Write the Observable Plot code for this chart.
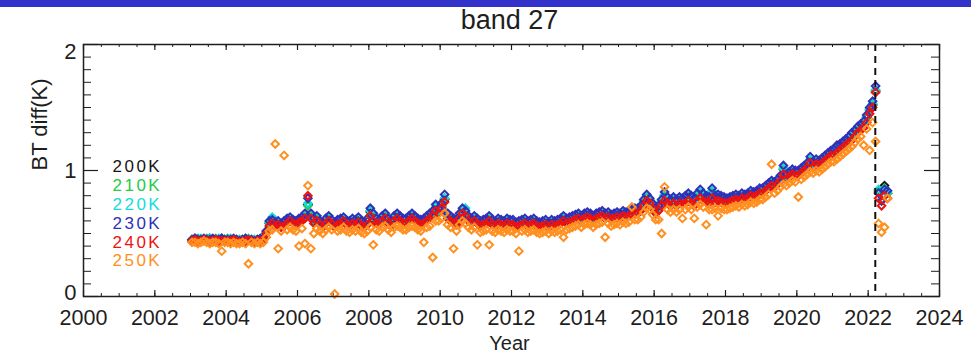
<!DOCTYPE html>
<html><head><meta charset="utf-8">
<script src="https://cdn.jsdelivr.net/npm/d3@7"></script>
<script src="https://cdn.jsdelivr.net/npm/@observablehq/plot@0.6"></script>
<style>
body{margin:0;background:#fff;}
#bar{height:7px;background:#3333cc;}
</style></head><body><div id="bar"></div><div id="chart"></div>
<script>
// ---- data (monthly samples, mid-month, Jan 2003 – Jul 2022) ----
const firstYear = 2003;
const seriesNames = ["200K","210K","220K","230K","240K","250K"];
const seriesColors = ["#151515","#22cc44","#11dddd","#3030b8","#ee1111","#ff9020"];

const v200K = [
0.45,0.46,0.45,0.45,0.45,0.45,0.46,0.45,0.45,0.45,0.46,0.45,
0.45,0.45,0.45,0.45,0.44,0.45,0.45,0.45,0.45,0.44,0.45,0.45,
0.45,0.50,0.58,0.60,0.58,0.59,0.57,0.58,0.60,0.61,0.60,0.59,
0.60,0.61,0.64,0.73,0.64,0.60,0.62,0.59,0.58,0.60,0.62,0.60,
0.58,0.59,0.60,0.61,0.59,0.58,0.60,0.59,0.61,0.59,0.58,0.60,
0.67,0.64,0.60,0.59,0.62,0.64,0.60,0.59,0.62,0.64,0.62,0.60,
0.60,0.62,0.64,0.62,0.60,0.59,0.60,0.62,0.64,0.66,0.70,0.68,
0.71,0.77,0.64,0.62,0.60,0.59,0.64,0.67,0.66,0.62,0.60,0.62,
0.60,0.58,0.59,0.60,0.62,0.59,0.58,0.60,0.59,0.58,0.60,0.59,
0.59,0.57,0.58,0.59,0.60,0.58,0.59,0.60,0.58,0.57,0.58,0.59,
0.57,0.59,0.58,0.59,0.60,0.62,0.60,0.61,0.62,0.63,0.64,0.62,
0.64,0.65,0.64,0.62,0.64,0.65,0.66,0.64,0.65,0.63,0.64,0.65,
0.64,0.66,0.65,0.66,0.67,0.68,0.68,0.70,0.75,0.79,0.76,0.72,
0.68,0.70,0.75,0.80,0.77,0.75,0.77,0.75,0.77,0.76,0.78,0.80,
0.78,0.76,0.80,0.82,0.80,0.78,0.77,0.83,0.78,0.79,0.78,0.77,
0.76,0.77,0.78,0.79,0.78,0.80,0.79,0.80,0.82,0.81,0.82,0.84,
0.84,0.86,0.88,0.90,0.89,0.91,0.94,1.01,0.95,0.97,0.99,0.98,
0.98,1.00,1.02,1.04,1.08,1.05,1.07,1.06,1.08,1.10,1.12,1.14,
1.15,1.17,1.19,1.21,1.23,1.25,1.28,1.30,1.33,1.35,1.37,1.42,
1.48,1.52,1.63,0.83,0.76,0.88,0.82];

const v210K = [
0.45,0.45,0.46,0.45,0.45,0.46,0.45,0.45,0.46,0.45,0.45,0.45,
0.46,0.45,0.45,0.44,0.45,0.45,0.46,0.45,0.44,0.45,0.45,0.45,
0.45,0.51,0.58,0.61,0.59,0.59,0.57,0.59,0.61,0.62,0.60,0.59,
0.61,0.62,0.64,0.72,0.64,0.61,0.62,0.59,0.58,0.61,0.62,0.60,
0.58,0.60,0.61,0.62,0.59,0.59,0.61,0.60,0.62,0.59,0.58,0.61,
0.68,0.64,0.61,0.60,0.62,0.64,0.61,0.59,0.63,0.64,0.62,0.61,
0.61,0.62,0.64,0.63,0.61,0.60,0.61,0.62,0.64,0.66,0.70,0.68,
0.72,0.78,0.64,0.62,0.61,0.60,0.64,0.67,0.67,0.62,0.61,0.62,
0.61,0.59,0.60,0.61,0.62,0.60,0.59,0.61,0.60,0.59,0.60,0.60,
0.60,0.58,0.59,0.60,0.61,0.59,0.60,0.60,0.59,0.58,0.59,0.60,
0.58,0.60,0.59,0.60,0.61,0.62,0.61,0.62,0.62,0.63,0.64,0.63,
0.64,0.65,0.64,0.63,0.64,0.65,0.66,0.64,0.65,0.64,0.64,0.65,
0.64,0.66,0.65,0.66,0.67,0.68,0.68,0.70,0.75,0.79,0.76,0.72,
0.68,0.70,0.75,0.80,0.77,0.75,0.77,0.75,0.77,0.76,0.78,0.80,
0.78,0.76,0.80,0.82,0.80,0.78,0.77,0.83,0.78,0.79,0.78,0.77,
0.76,0.77,0.78,0.79,0.78,0.80,0.79,0.80,0.82,0.81,0.82,0.84,
0.84,0.86,0.88,0.90,0.89,0.91,0.94,1.01,0.95,0.97,0.99,0.98,
0.98,1.00,1.02,1.04,1.08,1.05,1.07,1.06,1.08,1.10,1.12,1.14,
1.15,1.17,1.19,1.21,1.23,1.25,1.28,1.30,1.33,1.35,1.37,1.42,
1.48,1.52,1.63,0.84,0.76,0.86,0.82];

const v220K = [
0.45,0.45,0.45,0.46,0.45,0.45,0.46,0.45,0.45,0.46,0.45,0.45,
0.45,0.46,0.45,0.45,0.45,0.44,0.45,0.46,0.45,0.45,0.44,0.45,
0.46,0.51,0.59,0.63,0.60,0.59,0.58,0.59,0.61,0.62,0.60,0.60,
0.61,0.62,0.65,0.74,0.65,0.61,0.63,0.60,0.59,0.61,0.63,0.60,
0.59,0.60,0.61,0.62,0.60,0.59,0.61,0.60,0.62,0.60,0.59,0.61,
0.68,0.65,0.61,0.60,0.63,0.65,0.61,0.60,0.63,0.65,0.63,0.61,
0.61,0.63,0.65,0.63,0.61,0.60,0.61,0.63,0.65,0.67,0.71,0.69,
0.72,0.78,0.65,0.63,0.61,0.60,0.65,0.68,0.70,0.63,0.61,0.63,
0.61,0.59,0.60,0.61,0.63,0.60,0.59,0.61,0.60,0.59,0.61,0.60,
0.60,0.58,0.59,0.60,0.61,0.59,0.60,0.61,0.59,0.58,0.59,0.60,
0.58,0.60,0.59,0.60,0.61,0.63,0.61,0.62,0.63,0.64,0.65,0.63,
0.65,0.66,0.65,0.63,0.65,0.66,0.67,0.65,0.66,0.64,0.65,0.66,
0.65,0.67,0.66,0.67,0.68,0.69,0.69,0.71,0.76,0.80,0.77,0.73,
0.69,0.71,0.76,0.81,0.78,0.76,0.78,0.76,0.78,0.77,0.79,0.81,
0.79,0.77,0.81,0.83,0.81,0.79,0.78,0.84,0.79,0.80,0.79,0.78,
0.77,0.78,0.79,0.80,0.79,0.81,0.80,0.81,0.83,0.82,0.83,0.85,
0.85,0.87,0.89,0.91,0.90,0.92,0.95,1.02,0.96,0.98,1.00,0.99,
0.99,1.01,1.03,1.05,1.09,1.06,1.08,1.07,1.09,1.11,1.13,1.15,
1.16,1.18,1.20,1.22,1.24,1.26,1.29,1.31,1.34,1.36,1.38,1.43,
1.49,1.53,1.64,0.85,0.77,0.84,0.83];

const v230K = [
0.45,0.46,0.45,0.45,0.46,0.45,0.45,0.46,0.45,0.45,0.46,0.45,
0.45,0.45,0.46,0.45,0.44,0.45,0.46,0.45,0.45,0.44,0.45,0.46,
0.46,0.52,0.60,0.61,0.59,0.60,0.58,0.60,0.62,0.63,0.61,0.60,
0.62,0.63,0.66,0.78,0.66,0.62,0.64,0.60,0.59,0.62,0.64,0.61,
0.59,0.61,0.62,0.63,0.60,0.60,0.62,0.61,0.63,0.60,0.59,0.62,
0.70,0.66,0.62,0.61,0.64,0.66,0.62,0.60,0.64,0.66,0.64,0.62,
0.62,0.64,0.66,0.64,0.62,0.61,0.62,0.64,0.66,0.68,0.73,0.70,
0.74,0.81,0.66,0.64,0.62,0.61,0.66,0.70,0.68,0.64,0.62,0.64,
0.62,0.60,0.61,0.62,0.64,0.61,0.60,0.62,0.61,0.60,0.62,0.61,
0.61,0.59,0.60,0.61,0.62,0.60,0.61,0.62,0.60,0.59,0.60,0.61,
0.59,0.61,0.60,0.61,0.62,0.64,0.62,0.63,0.64,0.65,0.66,0.64,
0.66,0.67,0.66,0.64,0.66,0.67,0.68,0.66,0.67,0.65,0.66,0.67,
0.66,0.68,0.67,0.68,0.69,0.70,0.70,0.72,0.77,0.81,0.78,0.74,
0.70,0.72,0.77,0.83,0.79,0.77,0.79,0.77,0.79,0.78,0.80,0.82,
0.80,0.78,0.82,0.85,0.82,0.80,0.79,0.86,0.80,0.81,0.80,0.79,
0.78,0.79,0.80,0.81,0.80,0.82,0.81,0.82,0.84,0.83,0.84,0.86,
0.86,0.88,0.90,0.92,0.91,0.93,0.96,1.04,0.97,0.99,1.01,1.00,
1.00,1.02,1.04,1.06,1.11,1.07,1.09,1.08,1.10,1.12,1.14,1.16,
1.17,1.20,1.21,1.23,1.25,1.27,1.30,1.32,1.35,1.37,1.39,1.44,
1.50,1.55,1.67,0.82,0.76,0.85,0.84];

const v240K = [
0.44,0.45,0.44,0.44,0.45,0.44,0.44,0.44,0.45,0.44,0.44,0.44,
0.44,0.44,0.45,0.44,0.43,0.44,0.44,0.45,0.44,0.43,0.44,0.44,
0.45,0.50,0.56,0.58,0.56,0.57,0.55,0.56,0.58,0.60,0.58,0.57,
0.59,0.60,0.62,0.80,0.62,0.58,0.60,0.57,0.55,0.58,0.60,0.58,
0.55,0.57,0.58,0.60,0.57,0.56,0.58,0.57,0.59,0.56,0.55,0.57,
0.64,0.60,0.58,0.57,0.60,0.62,0.58,0.56,0.60,0.62,0.60,0.58,
0.58,0.60,0.62,0.60,0.58,0.57,0.58,0.60,0.62,0.64,0.68,0.66,
0.70,0.75,0.62,0.60,0.58,0.57,0.62,0.66,0.64,0.60,0.58,0.60,
0.58,0.56,0.57,0.58,0.60,0.57,0.56,0.58,0.57,0.56,0.58,0.57,
0.57,0.55,0.56,0.57,0.58,0.56,0.57,0.58,0.56,0.55,0.56,0.57,
0.55,0.57,0.56,0.57,0.58,0.60,0.58,0.59,0.60,0.61,0.62,0.60,
0.62,0.63,0.62,0.60,0.62,0.63,0.64,0.62,0.63,0.61,0.62,0.63,
0.62,0.64,0.63,0.64,0.65,0.66,0.66,0.68,0.72,0.76,0.74,0.70,
0.66,0.68,0.72,0.76,0.74,0.72,0.74,0.72,0.74,0.73,0.74,0.76,
0.74,0.72,0.76,0.78,0.76,0.75,0.74,0.78,0.75,0.76,0.75,0.74,
0.74,0.75,0.76,0.77,0.76,0.78,0.77,0.78,0.80,0.79,0.80,0.82,
0.82,0.84,0.86,0.88,0.87,0.89,0.92,0.97,0.93,0.95,0.97,0.96,
0.96,0.98,1.00,1.02,1.06,1.03,1.05,1.04,1.06,1.08,1.10,1.12,
1.12,1.14,1.16,1.18,1.20,1.22,1.24,1.27,1.30,1.32,1.34,1.38,
1.45,1.50,1.62,0.78,0.72,0.80,0.78];

const v250K = [
0.43,0.43,0.42,0.43,0.44,0.43,0.42,0.43,0.43,0.42,0.36,0.43,
0.43,0.42,0.43,0.42,0.42,0.43,0.42,0.26,0.43,0.42,0.43,0.42,
0.43,0.47,0.52,0.53,1.21,0.38,0.52,1.12,0.53,0.55,0.53,0.52,
0.40,0.54,0.42,0.88,0.38,0.50,0.54,0.52,0.50,0.53,0.55,0.53,
0.02,0.52,0.53,0.55,0.52,0.51,0.53,0.52,0.54,0.51,0.50,0.52,
0.55,0.41,0.53,0.52,0.55,0.56,0.53,0.51,0.55,0.56,0.55,0.53,
0.53,0.55,0.56,0.55,0.53,0.52,0.43,0.55,0.56,0.31,0.60,0.60,
0.62,0.66,0.57,0.55,0.38,0.52,0.57,0.60,0.58,0.55,0.53,0.55,
0.41,0.51,0.52,0.53,0.41,0.52,0.51,0.53,0.52,0.51,0.53,0.52,
0.52,0.50,0.36,0.52,0.53,0.51,0.52,0.53,0.51,0.50,0.51,0.52,
0.50,0.52,0.51,0.52,0.53,0.47,0.53,0.54,0.55,0.56,0.57,0.55,
0.57,0.58,0.57,0.55,0.57,0.58,0.59,0.47,0.58,0.56,0.57,0.58,
0.57,0.59,0.58,0.59,0.71,0.61,0.61,0.63,0.67,0.70,0.69,0.65,
0.61,0.61,0.50,0.87,0.69,0.67,0.69,0.67,0.69,0.62,0.69,0.71,
0.69,0.62,0.71,0.73,0.71,0.57,0.69,0.69,0.70,0.64,0.70,0.69,
0.69,0.70,0.71,0.72,0.71,0.73,0.72,0.73,0.75,0.74,0.75,0.77,
0.77,0.79,0.81,1.05,0.82,0.84,0.87,0.89,0.88,0.90,0.92,0.91,
0.79,0.93,0.95,0.97,0.99,0.98,1.00,0.99,1.01,1.03,1.05,1.07,
1.07,1.09,1.11,1.13,1.15,1.17,1.19,1.22,1.25,1.27,1.20,1.33,
1.16,1.38,1.23,0.58,0.51,0.55,0.78];

const seriesValues = [v200K, v210K, v220K, v230K, v240K, v250K];

// ---- axes / annotations ----
const xTickYears = [2000,2002,2004,2006,2008,2010,2012,2014,2016,2018,2020,2022,2024];
const xMinorStep = 0.5;
const yTickValues = [0, 1, 2];
const yMinorStep = 0.1;
const boundaryYear = 2022.2;
const titleText = "band 27";
const xLabel = "Year";
const yLabel = "BT diff(K)";

// ---- build table ----
const rows = [];
seriesNames.forEach((name, s) => {
  seriesValues[s].forEach((v, i) => {
    rows.push({series: name, year: firstYear + (i + 0.5) / 12, value: v});
  });
});
const xMinor = d3.range(2000, 2024 + 1e-9, xMinorStep);
const yMinor = d3.range(0, 2 + 1e-9, yMinorStep);

const W = 971, H = 349, mt = 37, mb = 60, ml = 83, mr = 32;
const fw = W - ml - mr, fh = H - mt - mb;
const ink = "#1e1e1e";

const marks = [];
// ticks (IDL style, inward, on all four sides)
marks.push(Plot.ruleX(xMinor, {x: d => d, insetTop: fh - 3, stroke: ink, strokeWidth: 1}));
marks.push(Plot.ruleX(xMinor, {x: d => d, insetBottom: fh - 3, stroke: ink, strokeWidth: 1}));
marks.push(Plot.ruleX(xTickYears, {x: d => d, insetTop: fh - 6, stroke: ink, strokeWidth: 1.2}));
marks.push(Plot.ruleX(xTickYears, {x: d => d, insetBottom: fh - 6, stroke: ink, strokeWidth: 1.2}));
marks.push(Plot.ruleY(yMinor, {y: d => d, insetRight: fw - 8, stroke: ink, strokeWidth: 1}));
marks.push(Plot.ruleY(yMinor, {y: d => d, insetLeft: fw - 8, stroke: ink, strokeWidth: 1}));
marks.push(Plot.ruleY(yTickValues, {y: d => d, insetRight: fw - 15, stroke: ink, strokeWidth: 1.2}));
marks.push(Plot.ruleY(yTickValues, {y: d => d, insetLeft: fw - 15, stroke: ink, strokeWidth: 1.2}));

// data points: open diamonds, drawn in series order
seriesNames.forEach((name, s) => {
  marks.push(Plot.dot(rows.filter(r => r.series === name), {
    x: "year", y: "value", symbol: "diamond2", r: 3.4,
    stroke: seriesColors[s], strokeWidth: 2, fill: "none"
  }));
});

// boundary dashed line
marks.push(Plot.ruleX([boundaryYear], {x: d => d, stroke: "#111", strokeWidth: 2, strokeDasharray: "7,5"}));
marks.push(Plot.frame({stroke: ink, strokeWidth: 1.5}));

// tick labels
marks.push(Plot.text(xTickYears, {x: d => d, text: d => String(d), frameAnchor: "bottom", dy: 22, lineAnchor: "middle", fontSize: 21.5, fill: ink}));
marks.push(Plot.text(yTickValues, {filter: d => d === 1, y: d => d, text: d => String(d), frameAnchor: "left", dx: -7, textAnchor: "end", lineAnchor: "middle", fontSize: 22, fill: ink}));
marks.push(Plot.text(yTickValues, {filter: d => d === 2, y: d => d, text: d => String(d), frameAnchor: "left", dx: -7, dy: 7, textAnchor: "end", lineAnchor: "middle", fontSize: 22, fill: ink}));
marks.push(Plot.text(yTickValues, {filter: d => d === 0, y: d => d, text: d => String(d), frameAnchor: "left", dx: -7, dy: -4, textAnchor: "end", lineAnchor: "middle", fontSize: 22, fill: ink}));

// axis titles and plot title
marks.push(Plot.text([titleText], {frameAnchor: "top", dy: -24.5, dx: -2, lineAnchor: "middle", fontSize: 27, fill: ink}));
marks.push(Plot.text([xLabel], {frameAnchor: "bottom", dy: 47, dx: -2, lineAnchor: "middle", fontSize: 20, fill: ink}));
marks.push(Plot.text([yLabel], {frameAnchor: "left", dx: -44, rotate: -90, lineAnchor: "middle", fontSize: 22, fill: ink}));

// legend (coloured labels inside the frame)
seriesNames.forEach((name, s) => {
  marks.push(Plot.text([name], {frameAnchor: "top-left", dx: 29, dy: 122 + s * 18.9,
    textAnchor: "start", lineAnchor: "middle", fontSize: 17, fill: seriesColors[s]}));
});

const chart = Plot.plot({
  width: W, height: H,
  marginTop: mt, marginBottom: mb, marginLeft: ml, marginRight: mr,
  x: {domain: [2000, 2024], axis: null},
  y: {domain: [0, 2], axis: null},
  style: {fontFamily: "'Liberation Sans', Arial, Helvetica, sans-serif", background: "#fff", overflow: "visible"},
  marks
});
d3.select(chart).selectAll("text")
  .filter(function() { return /^\d{3}K$/.test(this.textContent); })
  .attr("letter-spacing", "2.5");
document.getElementById("chart").appendChild(chart);
</script></body></html>
